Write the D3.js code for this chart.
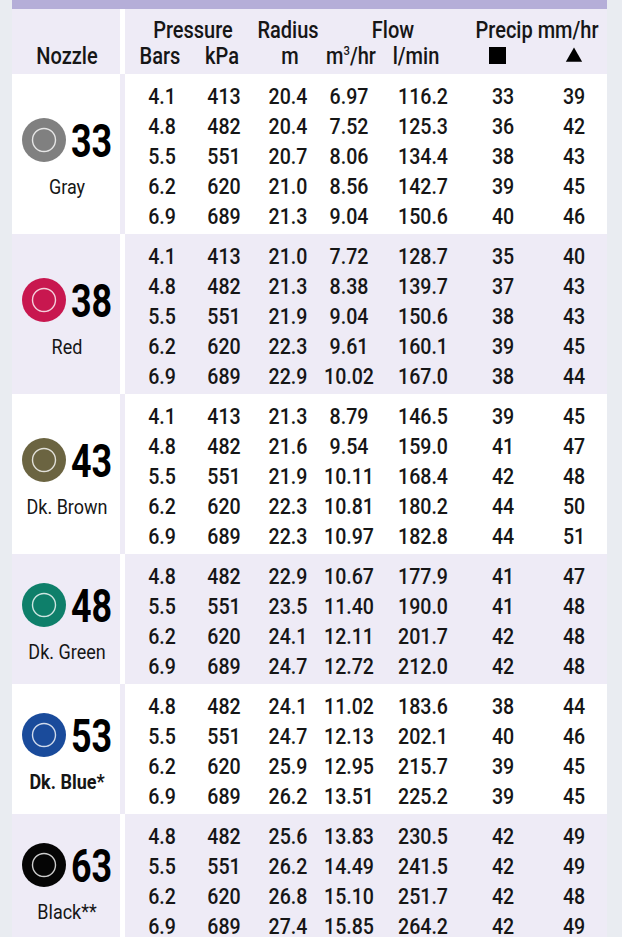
<!DOCTYPE html>
<html>
<head>
<meta charset="utf-8">
<script src="https://cdn.jsdelivr.net/npm/d3@7"></script>
<style>
  body { margin: 0; background: #e9ecf1; }
  svg { display: block; }
  text { font-family: Roboto, "Liberation Sans", sans-serif; fill: #161616; }
</style>
</head>
<body>
<div id="table"></div>
<script>
// nozzle groups
const nozzles = ["33", "38", "43", "48", "53", "63"]
const nozzleNames = ["Gray", "Red", "Dk. Brown", "Dk. Green", "Dk. Blue*", "Black**"]
const nozzleColors = ["#808080", "#c8174f", "#6b6441", "#0e7f6a", "#1a4b9b", "#050505"]

// one inner array per nozzle
const pressureBars = [
  [4.1, 4.8, 5.5, 6.2, 6.9],
  [4.1, 4.8, 5.5, 6.2, 6.9],
  [4.1, 4.8, 5.5, 6.2, 6.9],
  [4.8, 5.5, 6.2, 6.9],
  [4.8, 5.5, 6.2, 6.9],
  [4.8, 5.5, 6.2, 6.9]
]
const pressureKpa = [
  [413, 482, 551, 620, 689],
  [413, 482, 551, 620, 689],
  [413, 482, 551, 620, 689],
  [482, 551, 620, 689],
  [482, 551, 620, 689],
  [482, 551, 620, 689]
]
const radiusM = [
  [20.4, 20.4, 20.7, 21.0, 21.3],
  [21.0, 21.3, 21.9, 22.3, 22.9],
  [21.3, 21.6, 21.9, 22.3, 22.3],
  [22.9, 23.5, 24.1, 24.7],
  [24.1, 24.7, 25.9, 26.2],
  [25.6, 26.2, 26.8, 27.4]
]
const flowM3hr = [
  [6.97, 7.52, 8.06, 8.56, 9.04],
  [7.72, 8.38, 9.04, 9.61, 10.02],
  [8.79, 9.54, 10.11, 10.81, 10.97],
  [10.67, 11.40, 12.11, 12.72],
  [11.02, 12.13, 12.95, 13.51],
  [13.83, 14.49, 15.10, 15.85]
]
const flowLmin = [
  [116.2, 125.3, 134.4, 142.7, 150.6],
  [128.7, 139.7, 150.6, 160.1, 167.0],
  [146.5, 159.0, 168.4, 180.2, 182.8],
  [177.9, 190.0, 201.7, 212.0],
  [183.6, 202.1, 215.7, 225.2],
  [230.5, 241.5, 251.7, 264.2]
]
const precipSquare = [
  [33, 36, 38, 39, 40],
  [35, 37, 38, 39, 38],
  [39, 41, 42, 44, 44],
  [41, 41, 42, 42],
  [38, 40, 39, 39],
  [42, 42, 42, 42]
]
const precipTriangle = [
  [39, 42, 43, 45, 46],
  [40, 43, 43, 45, 44],
  [45, 47, 48, 50, 51],
  [47, 48, 48, 48],
  [44, 46, 45, 45],
  [49, 49, 48, 49]
]

const width = 622
const height = 937
const left = 12
const right = 607
const headTop = 9
const headBottom = 74
const rowStep = 30
const lavender = "#eeebf6"
const narrow = 0.87

const columns = [
  { key: "bars", values: pressureBars, fmt: d3.format(".1f") },
  { key: "kpa", values: pressureKpa, fmt: d3.format("d") },
  { key: "radius", values: radiusM, fmt: d3.format(".1f") },
  { key: "m3", values: flowM3hr, fmt: d3.format(".2f") },
  { key: "lmin", values: flowLmin, fmt: d3.format(".1f") },
  { key: "sq", values: precipSquare, fmt: d3.format("d") },
  { key: "tri", values: precipTriangle, fmt: d3.format("d") }
]

const x = d3.scaleOrdinal()
  .domain(columns.map(c => c.key))
  .range([162, 224, 288, 349, 423, 503, 574])

const color = d3.scaleOrdinal().domain(nozzles).range(nozzleColors)

// condensed look: squeeze text horizontally around its anchor
const at = (px, py, sx = narrow) => `translate(${px},${py}) scale(${sx},1)`

// group bands, stacked from the header down
let yCursor = headBottom
const groups = nozzles.map((n, i) => {
  const rows = pressureBars[i].length
  const h = rows * rowStep + 10
  const g = { i, nozzle: n, name: nozzleNames[i], y0: yCursor, h, rows }
  yCursor += h
  return g
})

const svg = d3.select("#table")
  .append("svg")
  .attr("width", width)
  .attr("height", height)

svg.append("rect")
  .attr("x", 0).attr("y", 0)
  .attr("width", width).attr("height", height)
  .attr("fill", "#e9ecf1")

svg.append("rect")
  .attr("x", left).attr("y", 0)
  .attr("width", right - left).attr("height", headTop)
  .attr("fill", "#b5aed8")

svg.append("rect")
  .attr("x", left).attr("y", headTop)
  .attr("width", right - left).attr("height", headBottom - headTop)
  .attr("fill", lavender)

svg.append("rect")
  .attr("x", 120).attr("y", headTop)
  .attr("width", 5).attr("height", headBottom - headTop)
  .attr("fill", "#fff")

// header text
const head1 = [
  { t: "Pressure", x: 193 },
  { t: "Radius", x: 288 },
  { t: "Flow", x: 393 },
  { t: "Precip mm/hr", x: 537 }
]
const head = svg.append("g")
  .attr("font-size", 23)
  .attr("text-anchor", "middle")
  .style("font-weight", 500)
head.selectAll("text.h1")
  .data(head1)
  .join("text")
  .attr("class", "h1")
  .attr("transform", d => at(d.x, 38))
  .text(d => d.t)

const head2 = [
  { t: "Nozzle", x: 67 },
  { t: "Bars", x: 160 },
  { t: "kPa", x: 222 },
  { t: "m", x: 290 },
  { t: "l/min", x: 416 }
]
head.selectAll("text.h2")
  .data(head2)
  .join("text")
  .attr("class", "h2")
  .attr("transform", d => at(d.x, 64))
  .text(d => d.t)

const m3 = head.append("text").attr("transform", at(351, 64))
m3.append("tspan").text("m")
m3.append("tspan").attr("font-size", 13).attr("dy", -9).text("3")
m3.append("tspan").attr("dy", 9).text("/hr")

svg.append("rect")
  .attr("x", 489).attr("y", 47)
  .attr("width", 17).attr("height", 17)
  .attr("fill", "#000")
svg.append("path")
  .attr("d", d3.symbol(d3.symbolTriangle2, 190)())
  .attr("transform", "translate(574,57)")
  .attr("fill", "#000")

// nozzle groups
const group = svg.selectAll("g.group")
  .data(groups)
  .join("g")
  .attr("class", "group")
  .attr("transform", d => `translate(0,${d.y0})`)

group.append("rect")
  .attr("x", left)
  .attr("width", right - left)
  .attr("height", d => d.h)
  .attr("fill", d => d.i % 2 ? lavender : "#fff")

group.append("rect")
  .attr("x", 120)
  .attr("width", 5)
  .attr("height", d => d.h)
  .attr("fill", d => d.i % 2 ? "#fff" : lavender)

group.append("circle")
  .attr("cx", 44)
  .attr("cy", d => d.h / 2 - 14)
  .attr("r", 22)
  .attr("fill", d => color(d.nozzle))

group.append("circle")
  .attr("cx", 44)
  .attr("cy", d => d.h / 2 - 14)
  .attr("r", 11.5)
  .attr("fill", "none")
  .attr("stroke", "#fff")
  .attr("stroke-opacity", 0.8)
  .attr("stroke-width", 1.4)

group.append("text")
  .attr("transform", d => at(71, d.h / 2 + 3, 0.78))
  .attr("font-size", 46)
  .style("font-weight", 700)
  .style("fill", "#000")
  .text(d => d.nozzle)

group.append("text")
  .attr("transform", d => at(67, d.h / 2 + 40, 0.9))
  .attr("font-size", 20)
  .attr("text-anchor", "middle")
  .style("font-weight", d => d.name === "Dk. Blue*" ? 700 : 400)
  .text(d => d.name)

columns.forEach(col => {
  group.selectAll(`text.c-${col.key}`)
    .data(d => col.values[d.i].map((v, r) => ({ v, r })))
    .join("text")
    .attr("class", `c-${col.key}`)
    .attr("transform", d => at(x(col.key), 22 + d.r * rowStep + 8))
    .attr("font-size", 22.5)
    .attr("text-anchor", "middle")
    .style("font-weight", 500)
    .text(d => col.fmt(d.v))
})
</script>
</body>
</html>
